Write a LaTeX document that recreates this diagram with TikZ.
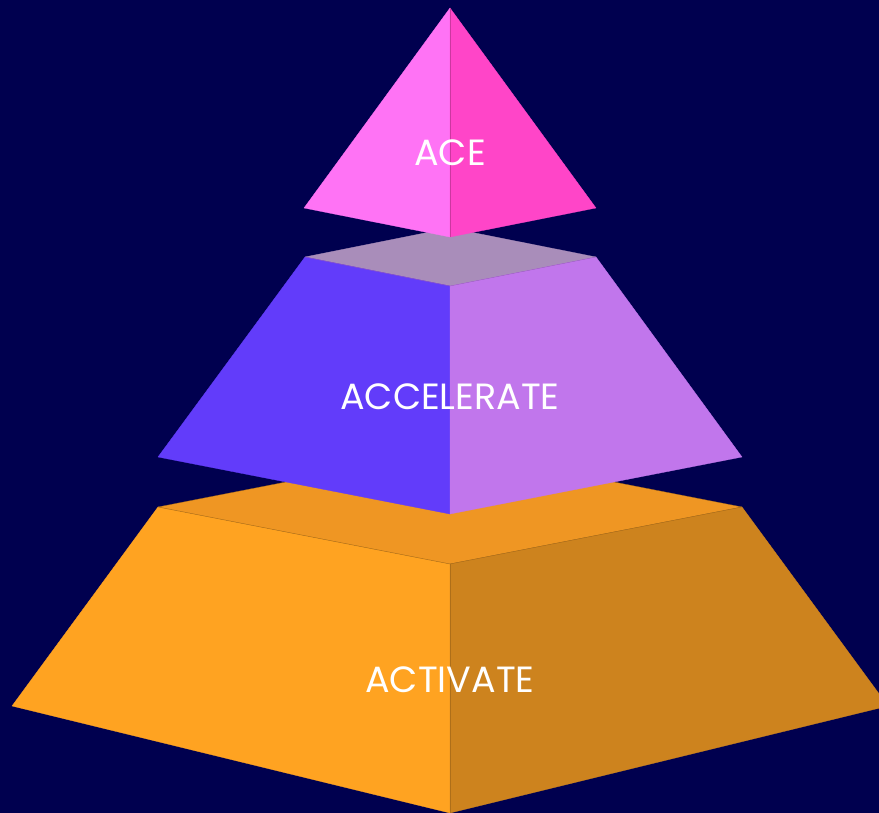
\documentclass[tikz,border=0pt]{standalone}
\usepackage{fontspec}
\setmainfont{Poppins}
\begin{document}
\begin{tikzpicture}[x=1pt,y=-1pt,
  face/.style={line width=0.3pt, line join=round},
  label/.style={text=white, font=\fontsize{36.5}{36.5}\selectfont, inner sep=0pt, anchor=center}]
\definecolor{bg}{HTML}{00004F}
\definecolor{aceL}{HTML}{FF73F5}
\definecolor{aceR}{HTML}{FF45C8}
\definecolor{accT}{HTML}{A98DBA}
\definecolor{accL}{HTML}{623CFA}
\definecolor{accR}{HTML}{C176EC}
\definecolor{actT}{HTML}{EF9623}
\definecolor{actL}{HTML}{FFA321}
\definecolor{actR}{HTML}{CD831E}
% background
\fill[bg] (0,0) rectangle (879,813);
\useasboundingbox (0,0) rectangle (879,813);
% bottom tier: ACTIVATE
\coordinate (bTL) at (158,507);
\coordinate (bTB) at (450,450);
\coordinate (bTR) at (742,507);
\coordinate (bTF) at (450,564);
\coordinate (bBL) at (12,706);
\coordinate (bBR) at (888,706);
\coordinate (bBF) at (450,813);
\fill[actT, draw=actR!80!black, face] (bTL) -- (bTB) -- (bTR) -- (bTF) -- cycle;
\fill[actL, draw=actL, face] (bTL) -- (bTF) -- (bBF) -- (bBL) -- cycle;
\fill[actR, draw=actR, face] (bTF) -- (bTR) -- (bBR) -- (bBF) -- cycle;
\draw[actR!85!black, line width=0.4pt] (bTL) -- (bTF) -- (bTR);
\draw[actR!85!black, line width=0.4pt] (bTF) -- (bBF);
% middle tier: ACCELERATE
\coordinate (mTL) at (305,257);
\coordinate (mTB) at (450,228);
\coordinate (mTR) at (596,257);
\coordinate (mTF) at (450,286);
\coordinate (mBL) at (158,457);
\coordinate (mBR) at (742,457);
\coordinate (mBF) at (450,514);
\fill[accT, draw=accT, face] (mTL) -- (mTB) -- (mTR) -- (mTF) -- cycle;
\fill[accL, draw=accL, face] (mTL) -- (mTF) -- (mBF) -- (mBL) -- cycle;
\fill[accR, draw=accR, face] (mTF) -- (mTR) -- (mBR) -- (mBF) -- cycle;
\draw[accR!80!black, line width=0.3pt] (mTL) -- (mTF) -- (mTR);
% top tier: ACE
\coordinate (tA) at (450,8);
\coordinate (tL) at (304,208);
\coordinate (tR) at (596,208);
\coordinate (tF) at (450,237);
\fill[aceL, draw=aceL, face] (tA) -- (tF) -- (tL) -- cycle;
\fill[aceR, draw=aceR, face] (tA) -- (tR) -- (tF) -- cycle;
\draw[aceR!80!black, line width=0.3pt] (tA) -- (tF);
% labels
\node[label] (ace) at (450,153) {ACE};
\node[label] (accelerate) at (450,397) {ACCELERATE};
\node[label] (activate) at (450,680) {ACTIVATE};
\end{tikzpicture}
\end{document}
